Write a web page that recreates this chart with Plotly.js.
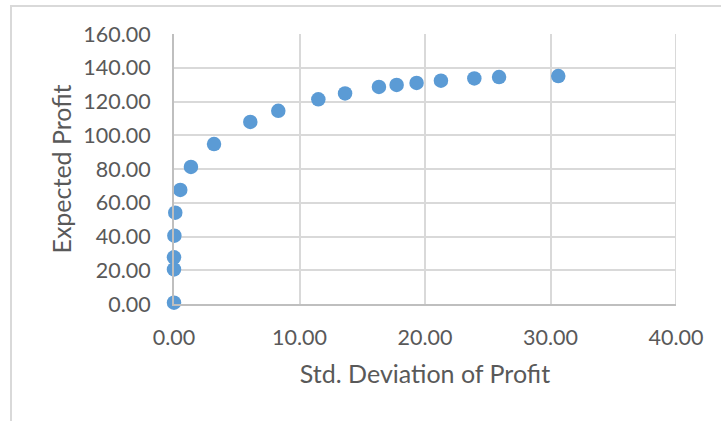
<!DOCTYPE html>
<html>
<head>
<meta charset="utf-8">
<script src="https://cdn.plot.ly/plotly-3.0.1.min.js"></script>
<style>
  html, body { margin: 0; padding: 0; background: #ffffff; }
  #wrap { position: relative; width: 721px; height: 421px; overflow: hidden; }
  #frame { position: absolute; left: 10px; top: 5px; width: 720px; height: 430px;
           border-top: 2px solid #d9d9d9; border-left: 2px solid #d9d9d9; box-sizing: border-box; }
  #chart { position: absolute; left: 0; top: 0; width: 721px; height: 421px; }
</style>
</head>
<body>
<div id="wrap">
  <div id="frame"></div>
  <div id="chart"></div>
</div>
<script>
// Efficient frontier: risk (std. deviation) vs. expected profit
const stdDevProfit = [0.00, 0.00, 0.00, 0.03, 0.10, 0.50, 1.35, 3.19, 6.08, 8.31,
                      11.50, 13.63, 16.33, 17.74, 19.33, 21.27, 23.93, 25.90, 30.62];
const expectedProfit = [0.8, 20.5, 27.7, 40.5, 54.1, 67.6, 81.2, 94.8, 107.9, 114.5,
                        121.3, 124.8, 128.6, 129.8, 131.0, 132.3, 133.7, 134.5, 135.1];

const xTitle = 'Std. Deviation of Profit';
const yTitle = 'Expected Profit';

const textColor = '#595959';
const fontFamily = 'Lato, "Open Sans", sans-serif';

const trace = {
  type: 'scatter',
  mode: 'markers',
  x: stdDevProfit,
  y: expectedProfit,
  cliponaxis: false,
  marker: { color: '#5b9bd5', size: 14.5, line: { width: 0 } },
  hoverinfo: 'x+y'
};

const layout = {
  width: 721,
  height: 421,
  margin: { l: 174, r: 45, t: 34, b: 117 },
  paper_bgcolor: 'rgba(0,0,0,0)',
  plot_bgcolor: '#ffffff',
  showlegend: false,
  font: { family: fontFamily, color: textColor, size: 21 },
  xaxis: {
    range: [0, 40],
    dtick: 10,
    tick0: 0,
    tickformat: '.2f',
    showgrid: true,
    gridcolor: '#d9d9d9',
    gridwidth: 2,
    zeroline: false,
    showline: true,
    linecolor: '#bfbfbf',
    linewidth: 2,
    ticks: '',
    ticklabelstandoff: 13,
    tickfont: { family: fontFamily, color: textColor, size: 21.5 },
    automargin: false,
    fixedrange: true,
    title: { text: xTitle, font: { family: fontFamily, color: textColor, size: 25 }, standoff: 17 }
  },
  yaxis: {
    range: [0, 160],
    dtick: 20,
    tick0: 0,
    tickformat: '.2f',
    showgrid: true,
    gridcolor: '#d9d9d9',
    gridwidth: 2,
    zeroline: false,
    showline: true,
    linecolor: '#bfbfbf',
    linewidth: 2,
    ticks: '',
    ticklabelstandoff: 17,
    tickfont: { family: fontFamily, color: textColor, size: 21.5 },
    automargin: false,
    fixedrange: true,
    title: { text: yTitle, font: { family: fontFamily, color: textColor, size: 25 }, standoff: 5 }
  },
  shapes: [
    // right edge of the plotting area
    { type: 'line', xref: 'x', yref: 'paper', x0: 40, x1: 40, y0: 0, y1: 1,
      line: { color: '#d9d9d9', width: 2 }, layer: 'below' }
  ]
};

Plotly.newPlot('chart', [trace], layout, { displayModeBar: false, staticPlot: true });
</script>
</body>
</html>
